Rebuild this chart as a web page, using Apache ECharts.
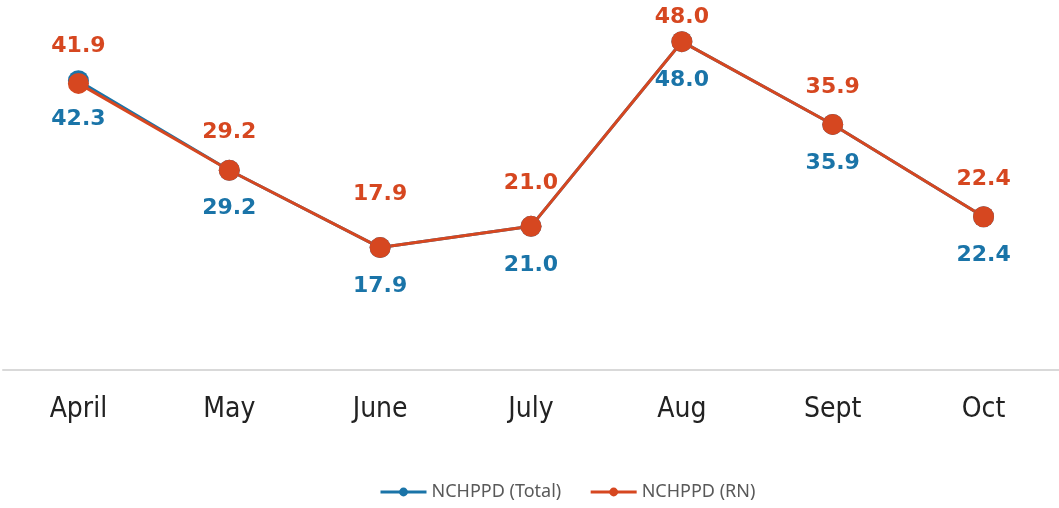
<!DOCTYPE html>
<html>
<head>
<meta charset="utf-8">
<script src="https://cdn.jsdelivr.net/npm/echarts@6/dist/echarts.min.js"></script>
<style>
  html, body { margin: 0; padding: 0; background: #fff; }
  #chart { width: 1059px; height: 508px; }
</style>
</head>
<body>
<div id="chart"></div>
<script>
const months = ['April', 'May', 'June', 'July', 'Aug', 'Sept', 'Oct']
const totalValues = [42.3, 29.2, 17.9, 21.0, 48.0, 35.9, 22.4]
const rnValues = [41.9, 29.2, 17.9, 21.0, 48.0, 35.9, 22.4]

// label gap above the RN points (the picture is not uniform)
const rnLabelGap = [16, 16, 32, 22, 3, 16, 16]

const blue = '#1A74A8'
const orange = '#D64720'
const axisFont = '"DejaVu Sans Condensed", "Liberation Sans Narrow", sans-serif'
const numFont = '"DejaVu Sans", sans-serif'

const chart = echarts.init(document.getElementById('chart'))
chart.setOption({
  animation: false,
  grid: { left: 3, right: 0, top: 28, bottom: 138 },
  legend: {
    bottom: 2,
    left: 374,
    itemWidth: 46,
    itemHeight: 11,
    itemGap: 28,
    lineStyle: { width: 3 },
    textStyle: { color: '#595959', fontSize: 18, fontFamily: '"Noto Sans", sans-serif' },
    data: ['NCHPPD (Total)', 'NCHPPD (RN)']
  },
  xAxis: {
    type: 'category',
    data: months,
    axisLine: { lineStyle: { color: '#D9D9D9', width: 2 } },
    axisTick: { show: false },
    axisLabel: { color: '#222', fontSize: 28, fontFamily: axisFont, margin: 26 }
  },
  yAxis: {
    type: 'value',
    min: 0,
    max: 50,
    show: false
  },
  series: [
    {
      name: 'NCHPPD (Total)',
      type: 'line',
      data: totalValues,
      symbol: 'circle',
      symbolSize: 21,
      lineStyle: { color: blue, width: 3 },
      itemStyle: { color: blue },
      label: {
        show: true,
        position: 'bottom',
        distance: 17,
        color: blue,
        fontSize: 22,
        fontWeight: 'bold',
        fontFamily: numFont,
        formatter: p => p.value.toFixed(1)
      }
    },
    {
      name: 'NCHPPD (RN)',
      type: 'line',
      data: rnValues.map((v, i) => ({ value: v, label: { distance: rnLabelGap[i] } })),
      symbol: 'circle',
      symbolSize: 21,
      lineStyle: { color: orange, width: 3 },
      itemStyle: { color: orange },
      label: {
        show: true,
        position: 'top',
        color: orange,
        fontSize: 22,
        fontWeight: 'bold',
        fontFamily: numFont,
        formatter: p => p.value.toFixed(1)
      }
    }
  ]
})
</script>
</body>
</html>
